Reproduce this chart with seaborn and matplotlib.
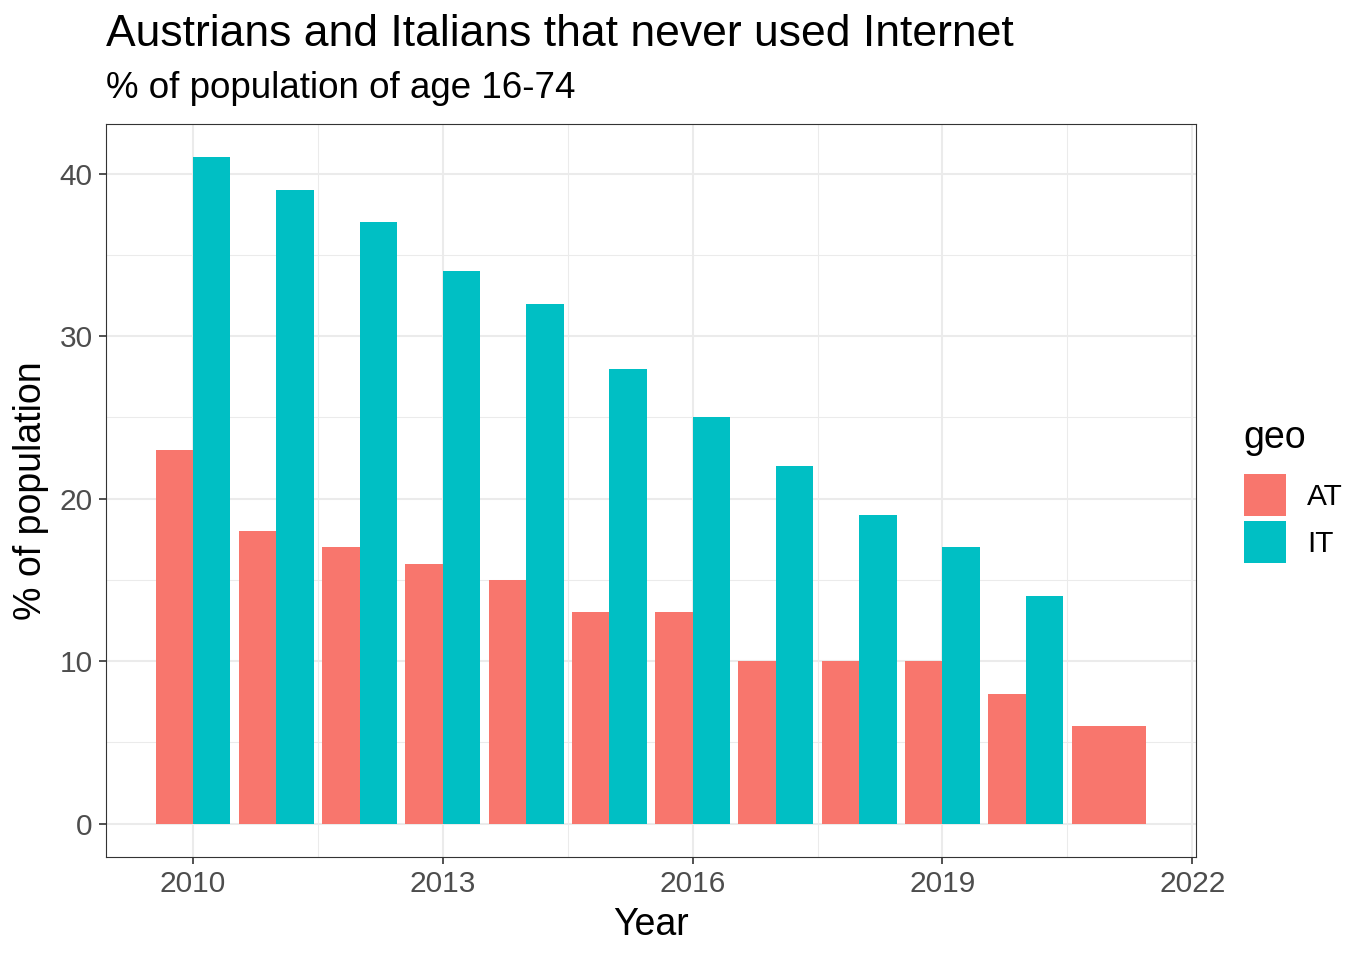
import matplotlib
matplotlib.use("Agg")
import matplotlib.pyplot as plt
import seaborn as sns
import numpy as np
from matplotlib.patches import Patch
from matplotlib.ticker import MultipleLocator

# data
years = [2010, 2011, 2012, 2013, 2014, 2015, 2016, 2017, 2018, 2019, 2020, 2021]
at_values = [23, 18, 17, 16, 15, 13, 13, 10, 10, 10, 8, 6]
it_values = [41, 39, 37, 34, 32, 28, 25, 22, 19, 17, 14, np.nan]
geo_labels = ["AT", "IT"]
geo_colors = ["#F8766D", "#00BFC4"]

sns.set_theme(style="whitegrid")
plt.rcParams['font.family'] = ['Liberation Sans', 'DejaVu Sans']
plt.rcParams['text.color'] = 'black'
plt.rcParams['axes.labelcolor'] = 'black'

fig = plt.figure(figsize=(13.71, 9.59), dpi=100)
ax = fig.add_axes([106 / 1371, 1 - 857 / 959, (1196 - 106) / 1371, (857 - 124) / 959])

# dodged bars, a lone bar takes the full width (like ggplot's position_dodge)
total_w = 0.9
for yr, a, i in zip(years, at_values, it_values):
    if np.isnan(i):
        ax.bar(yr, a, width=total_w, color=geo_colors[0], linewidth=0, zorder=3)
    else:
        ax.bar(yr - total_w / 4, a, width=total_w / 2, color=geo_colors[0], linewidth=0, zorder=3)
        ax.bar(yr + total_w / 4, i, width=total_w / 2, color=geo_colors[1], linewidth=0, zorder=3)

ax.set_xlim(2010 - 0.45 - 0.595, 2021 + 0.45 + 0.595)
ax.set_ylim(-2.05, 43.05)
ax.set_xticks([2010, 2013, 2016, 2019, 2022])
ax.set_yticks([0, 10, 20, 30, 40])
ax.xaxis.set_minor_locator(MultipleLocator(1.5))
ax.yaxis.set_minor_locator(MultipleLocator(5))

ax.set_facecolor("white")
ax.grid(which="major", color="#EBEBEB", lw=1.45, zorder=0)
ax.grid(which="minor", color="#EBEBEB", lw=0.75, zorder=0)
ax.set_axisbelow(True)
for sp in ax.spines.values():
    sp.set_visible(True)
    sp.set_color("#333333")
    sp.set_linewidth(0.8)

ax.tick_params(which="major", length=5, width=1.2, color="#333333",
               labelsize=21.5, labelcolor="#4D4D4D", bottom=True, left=True, pad=4.5)
ax.tick_params(which="minor", length=0)

ax.set_xlabel("Year", fontsize=27, color="black", labelpad=6)
ax.set_ylabel("% of population", fontsize=27, color="black", labelpad=8)

fig.text(106 / 1371, 1 - 35 / 959, "Austrians and Italians that never used Internet",
         fontsize=32, va="center", ha="left", color="black")
fig.text(106 / 1371, 1 - 89 / 959, "% of population of age 16-74",
         fontsize=26.5, va="center", ha="left", color="black")

# legend: title as separate text so the gap to the keys matches
fig.text(1243 / 1371, 1 - 438 / 959, "geo", fontsize=27, va="center", ha="left", color="black")
handles = [Patch(facecolor=c, edgecolor="none") for c in geo_colors]
leg = fig.legend(handles, geo_labels, loc="upper left",
                 bbox_to_anchor=(1244 / 1371, 1 - 474 / 959), frameon=False,
                 fontsize=21.5, handlelength=1.4, handleheight=1.8,
                 labelspacing=0.16, handletextpad=0.72, borderaxespad=0, borderpad=0)

fig.savefig("out.png", dpi=100)
